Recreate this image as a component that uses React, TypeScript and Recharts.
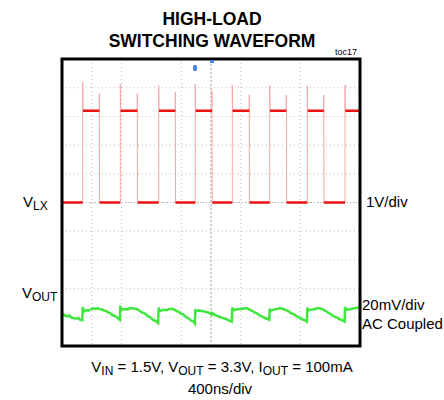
import React from "react";
import {
  CartesianGrid,
  Line,
  LineChart,
  ReferenceLine,
  XAxis,
  YAxis,
} from "recharts";

// time in ns (400ns/div, 10 div), amplitude in divisions (center = 0)
const timeTicks = [0, 400, 800, 1200, 1600, 2000, 2400, 2800, 3200, 3600, 4000];
const divTicks = [-5, -4, -3, -2, -1, 0, 1, 2, 3, 4, 5];

// LX switching node (1V/div)
const lxRise = [278, 783, 1298, 1789, 2286, 2788, 3293, 3799];
const lxFall = [501, 1011, 1521, 2013, 2514, 3011, 3513];
const lxRiseSpike = [4.2, 4.13, 4.08, 4.13, 4.1, 4.08, 4.06, 4.1];
const lxFallSpike = [3.8, 3.8, 3.85, 3.9, 3.75, 3.75, 3.75];
const lxLow = 0;
const lxHigh = 3.2;

// VOUT ripple (20mV/div, AC coupled)
const voutTrace: [number, number][] = [
  [0, -3.92], [25, -3.9], [40, -3.95], [80, -3.96], [100, -3.94], [120, -4.0], [160, -4.03], [200, -4.04], [220, -4.02], [240, -4.08], [272, -4.1],
  [278, -3.64], [290, -3.8], [330, -3.75], [355, -3.77], [380, -3.73], [430, -3.69], [455, -3.71], [480, -3.68], [501, -3.71],
  [530, -3.72], [560, -3.76], [590, -3.78], [620, -3.83], [650, -3.86], [680, -3.93], [710, -3.95], [740, -4.01], [778, -4.09],
  [783, -3.6], [795, -3.74], [820, -3.72], [850, -3.71], [880, -3.73], [910, -3.68], [960, -3.69], [1011, -3.72],
  [1045, -3.78], [1080, -3.84], [1115, -3.87], [1150, -3.95], [1185, -4.0], [1220, -4.09], [1255, -4.12], [1290, -4.2],
  [1298, -3.66], [1310, -3.78], [1340, -3.76], [1370, -3.74], [1400, -3.75], [1430, -3.72], [1480, -3.7], [1521, -3.75],
  [1555, -3.8], [1590, -3.86], [1625, -3.9], [1660, -3.98], [1695, -4.03], [1730, -4.11], [1760, -4.14], [1784, -4.22],
  [1789, -3.72], [1800, -3.8], [1830, -3.76], [1860, -3.77], [1895, -3.79], [1930, -3.81], [1970, -3.84], [2009, -3.9], [2013, -3.85],
  [2045, -3.9], [2080, -3.95], [2120, -3.99], [2160, -4.03], [2195, -4.05], [2230, -4.1], [2280, -4.15],
  [2286, -3.66], [2300, -3.76], [2330, -3.73], [2360, -3.72], [2390, -3.71], [2420, -3.7], [2480, -3.68], [2514, -3.73],
  [2545, -3.77], [2580, -3.82], [2615, -3.86], [2650, -3.93], [2685, -3.97], [2720, -4.02], [2750, -4.05], [2782, -4.09],
  [2788, -3.7], [2800, -3.77], [2830, -3.74], [2860, -3.72], [2895, -3.71], [2926, -3.68], [2970, -3.71], [3011, -3.75],
  [3045, -3.8], [3080, -3.86], [3115, -3.9], [3150, -3.96], [3185, -4.01], [3220, -4.07], [3255, -4.1], [3288, -4.15],
  [3293, -3.66], [3305, -3.76], [3340, -3.74], [3370, -3.72], [3400, -3.71], [3430, -3.68], [3470, -3.69], [3513, -3.74],
  [3545, -3.79], [3580, -3.85], [3615, -3.9], [3650, -3.97], [3685, -4.0], [3720, -4.06], [3760, -4.1], [3794, -4.15],
  [3799, -3.64], [3812, -3.74], [3840, -3.73], [3870, -3.72], [3900, -3.7], [3930, -3.68], [3965, -3.67], [4000, -3.64],
];

const voutData = voutTrace.map(([t, v]) => ({ t, v }));

// pale full LX trace (edges + spikes) and bold flat levels
const lxTrace: { t: number; v: number }[] = [{ t: 0, v: lxLow }];
const lxFlat: { t: number; v: number | null }[] = [{ t: 0, v: lxLow }];
lxRise.forEach((tr, i) => {
  lxTrace.push({ t: tr, v: lxLow }, { t: tr, v: lxRiseSpike[i] }, { t: tr + 4, v: lxHigh });
  lxFlat.push({ t: tr, v: lxLow }, { t: tr + 2, v: null }, { t: tr + 4, v: lxHigh });
  const tf = lxFall[i];
  if (tf !== undefined) {
    lxTrace.push({ t: tf, v: lxHigh }, { t: tf, v: lxFallSpike[i] }, { t: tf + 3, v: lxLow });
    lxFlat.push({ t: tf, v: lxHigh }, { t: tf + 1, v: null }, { t: tf + 3, v: lxLow });
  } else {
    lxTrace.push({ t: 4000, v: lxHigh });
    lxFlat.push({ t: 4000, v: lxHigh });
  }
});

const font = "'Liberation Sans', Arial, sans-serif";
const W = 444;
const H = 400;
const margin = { top: 59, right: 84, bottom: 54, left: 62 };

export default function App() {
  const plotW = W - margin.left - margin.right;
  const plotH = H - margin.top - margin.bottom;
  return (
    <div style={{ position: "absolute", left: 0, top: 0, width: W, height: H, background: "#fff" }}>
      <LineChart width={W} height={H} margin={margin}>
        <XAxis dataKey="t" type="number" domain={[0, 4000]} ticks={timeTicks} hide />
        <YAxis type="number" domain={[-5, 5]} ticks={divTicks} hide />
        <CartesianGrid
          stroke="#bdbdbd"
          strokeDasharray="1 3"
          horizontalValues={divTicks}
          verticalValues={timeTicks}
        />
        <ReferenceLine x={2000} stroke="#a0a0a0" strokeDasharray="2 2" />
        <ReferenceLine y={0} stroke="#b4b4b4" strokeDasharray="1 2" />
        <Line
          data={lxTrace}
          dataKey="v"
          type="linear"
          stroke="#f8a8a8"
          strokeWidth={1}
          dot={false}
          isAnimationActive={false}
        />
        <Line
          data={lxFlat}
          dataKey="v"
          type="linear"
          stroke="#ee1111"
          strokeWidth={2.5}
          dot={false}
          connectNulls={false}
          isAnimationActive={false}
        />
        <Line
          data={voutData}
          dataKey="v"
          type="linear"
          stroke="#3ee63e"
          strokeWidth={2.5}
          dot={false}
          isAnimationActive={false}
        />
      </LineChart>
      <svg
        width={W}
        height={H}
        style={{ position: "absolute", left: 0, top: 0, pointerEvents: "none" }}
        fontFamily={font}
      >
        <rect
          x={margin.left}
          y={margin.top}
          width={plotW}
          height={plotH}
          fill="none"
          stroke="#000"
          strokeWidth={3}
        />
        <rect x={210} y={60} width={4} height={3} fill="#4a86e8" />
        <rect x={193} y={65} width={4} height={6} rx={1.5} fill="#4a86e8" />
        <text x={212} y={25} textAnchor="middle" fontSize={17.5} fontWeight="bold">
          HIGH-LOAD
        </text>
        <text x={212} y={47} textAnchor="middle" fontSize={17.5} fontWeight="bold">
          SWITCHING WAVEFORM
        </text>
        <text x={357} y={55} textAnchor="end" fontSize={9}>
          toc17
        </text>
        <text x={23} y={207} fontSize={15}>
          V<tspan fontSize={12} dy={3}>LX</tspan>
        </text>
        <text x={366} y={207} fontSize={15}>
          1V/div
        </text>
        <text x={22} y={298} fontSize={15}>
          V<tspan fontSize={12} dy={3}>OUT</tspan>
        </text>
        <text x={362} y={310} fontSize={15}>
          20mV/div
        </text>
        <text x={362} y={329} fontSize={15}>
          AC Coupled
        </text>
        <text x={222} y={372} textAnchor="middle" fontSize={15}>
          V<tspan fontSize={12} dy={3}>IN</tspan>
          <tspan dy={-3}> = 1.5V, V</tspan>
          <tspan fontSize={12} dy={3}>OUT</tspan>
          <tspan dy={-3}> = 3.3V, I</tspan>
          <tspan fontSize={12} dy={3}>OUT</tspan>
          <tspan dy={-3}> = 100mA</tspan>
        </text>
        <text x={220} y={394} textAnchor="middle" fontSize={15}>
          400ns/div
        </text>
      </svg>
    </div>
  );
}
